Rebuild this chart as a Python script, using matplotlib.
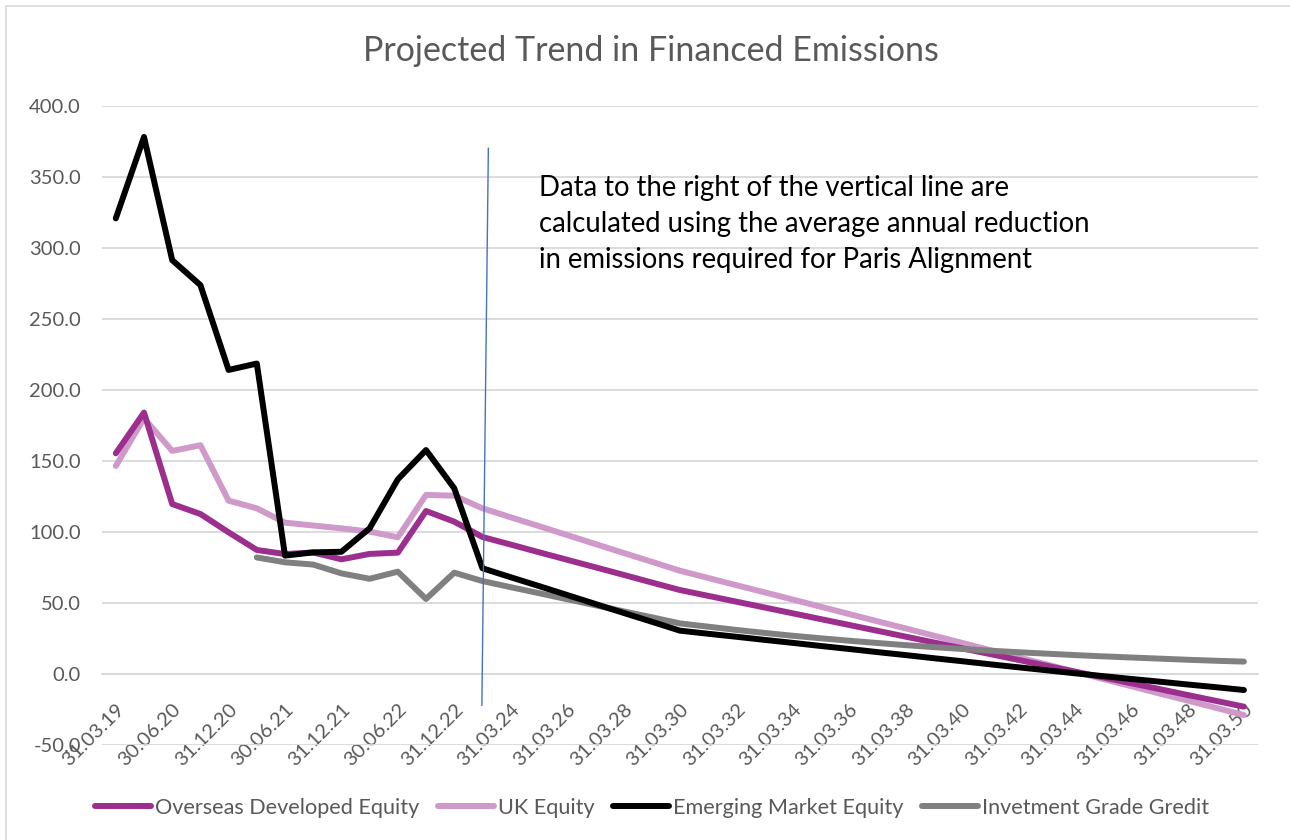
import matplotlib
matplotlib.use("Agg")
import matplotlib.pyplot as plt
import numpy as np
from matplotlib.ticker import FormatStrFormatter
from matplotlib.patches import Rectangle

# ---------------- data ----------------
categories = ['31.03.19', '31.03.20', '30.06.20', '30.09.20', '31.12.20', '31.03.21',
              '30.06.21', '30.09.21', '31.12.21', '31.03.22', '30.06.22', '30.09.22',
              '31.12.22', '31.03.23', '31.03.24', '31.03.25', '31.03.26', '31.03.27',
              '31.03.28', '31.03.29', '31.03.30', '31.03.31', '31.03.32', '31.03.33',
              '31.03.34', '31.03.35', '31.03.36', '31.03.37', '31.03.38', '31.03.39',
              '31.03.40', '31.03.41', '31.03.42', '31.03.43', '31.03.44', '31.03.45',
              '31.03.46', '31.03.47', '31.03.48', '31.03.49', '31.03.50']

overseas_developed_equity = [155.3, 184.0, 119.6, 112.6, 99.7, 87.3, 84.4, 85.5, 80.7, 84.5,
                             85.4, 114.7, 107.2, 96.4, 91.1, 85.7, 80.4, 75.1, 69.8, 64.4,
                             59.1, 55.0, 50.9, 46.8, 42.7, 38.6, 34.5, 30.4, 26.3, 22.2,
                             18.1, 14.0, 9.9, 5.8, 1.7, -2.4, -6.5, -10.6, -14.8, -18.9, -23.0]

uk_equity = [146.4, 180.0, 157.0, 161.0, 122.0, 116.6, 106.5, 104.5, 102.5, 100.2,
             96.2, 126.0, 125.5, 116.6, 110.3, 104.1, 97.8, 91.5, 85.2, 79.0,
             72.7, 67.6, 62.5, 57.5, 52.4, 47.3, 42.2, 37.1, 32.1, 27.0,
             21.9, 16.8, 11.7, 6.7, 1.6, -3.5, -8.6, -13.7, -18.7, -23.8, -28.9]

emerging_market_equity = [320.7, 378.0, 291.3, 273.7, 214.0, 218.5, 83.3, 85.6, 86.0, 102.5,
                          137.0, 157.6, 130.7, 74.4, 68.1, 61.9, 55.6, 49.3, 43.0, 36.8,
                          30.5, 28.3, 26.2, 24.0, 21.9, 19.7, 17.6, 15.4, 13.3, 11.1,
                          9.0, 6.8, 4.7, 2.6, 0.5, -1.5, -3.5, -5.4, -7.4, -9.3, -11.3]

investment_grade_credit = [None, None, None, None, None, 82.0, 78.6, 77.0, 70.8, 67.0,
                           72.0, 52.8, 71.3, 65.4, 61.1, 56.9, 52.6, 48.4, 44.1, 39.9,
                           35.6, 33.3, 31.0, 28.9, 26.9, 25.1, 23.4, 21.8, 20.3, 18.9,
                           17.6, 16.4, 15.3, 14.3, 13.3, 12.4, 11.6, 10.8, 10.0, 9.3, 8.7]

series_names = ['Overseas Developed Equity', 'UK Equity',
                'Emerging Market Equity', 'Invetment Grade Gredit']

title_text = 'Projected Trend in Financed Emissions'
note_text = ('Data to the right of the vertical line are\n'
             'calculated using the average annual reduction\n'
             'in emissions required for Paris Alignment')

# ---------------- styling ----------------
series_colors = ['#9C2F8E', '#CF99CA', '#000000', '#808080']
series_z = [3, 2, 5, 4]
text_grey = '#595959'
grid_grey = '#D9D9D9'

plt.rcParams['font.family'] = ['Lato', 'DejaVu Sans']

W, H = 1290, 840
fig = plt.figure(figsize=(W / 100, H / 100), dpi=100)
ax = fig.add_axes([101.7 / W, 1 - 745 / H, (1258 - 101.7) / W, (745 - 105.7) / H])

x = np.arange(len(categories))
all_series = [overseas_developed_equity, uk_equity,
              emerging_market_equity, investment_grade_credit]
handles = []
for vals, name, color, z in zip(all_series, series_names, series_colors, series_z):
    y = np.array(vals, dtype=float)
    ln, = ax.plot(x, y, color=color, lw=4.3, label=name, zorder=z,
                  solid_capstyle='round', solid_joinstyle='round')
    handles.append(ln)

ax.set_xlim(-0.5, len(categories) - 0.5)
ax.set_ylim(-50, 400)
ax.set_yticks(np.arange(-50, 401, 50))
ax.yaxis.set_major_formatter(FormatStrFormatter('%.1f'))
ax.grid(axis='y', color=grid_grey, lw=1.3)
ax.set_axisbelow(True)
for s in ['top', 'right', 'left']:
    ax.spines[s].set_visible(False)
ax.spines['bottom'].set_position(('data', 0))
ax.spines['bottom'].set_color(grid_grey)
ax.spines['bottom'].set_linewidth(1.3)
ax.set_xticks(x[::2])
ax.set_xticklabels(categories[::2], rotation=45, ha='right', va='top',
                   rotation_mode='anchor')
ax.tick_params(axis='x', length=0, pad=19, labelsize=14.5, labelcolor=text_grey)
ax.tick_params(axis='y', length=0, pad=15, labelsize=14.5, labelcolor=text_grey)

# divider line between actual and projected data
divider_x = (13.21, 12.98)
divider_y = (370, -22)
ax.plot(divider_x, divider_y, color='#4472C4', lw=1.0, zorder=6, clip_on=False)

ax.text(15.0, 316.5, note_text, fontsize=19.8, color='black', ha='left', va='center',
        linespacing=1.47, zorder=7)

fig.text(651 / W, 1 - 51 / H, title_text, ha='center', va='center',
         fontsize=24.5, color=text_grey)

fig.legend(handles=handles, labels=series_names, loc='center',
           bbox_to_anchor=(652 / W, 1 - 808 / H), ncol=4, frameon=False,
           fontsize=15.6, labelcolor=text_grey, handlelength=2.6,
           handletextpad=0.18, columnspacing=0.85)

fig.add_artist(Rectangle((6 / W, -0.05), 1.2, (1 - 6 / H) + 0.05,
                         transform=fig.transFigure, fill=False,
                         edgecolor=grid_grey, lw=1.2))

fig.savefig('out.png', dpi=100, facecolor='white')
